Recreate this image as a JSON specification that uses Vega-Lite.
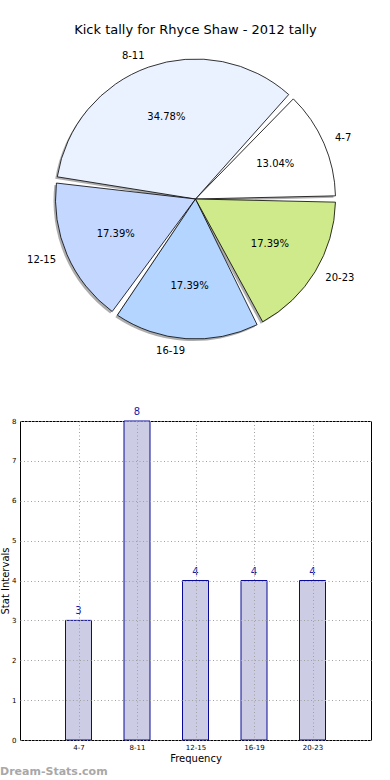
{
  "$schema": "https://vega.github.io/schema/vega-lite/v6.json",
  "padding": {"left": 0, "top": 23, "right": 20, "bottom": 0},
  "bounds": "flush",
  "spacing": 82,
  "config": {"font": "DejaVu Sans", "view": {"stroke": null}},
  "datasets": {
    "tally": [
      {"range": "4-7", "count": 3, "pct": "13.04%", "slot": 5, "side": "right"},
      {"range": "8-11", "count": 8, "pct": "34.78%", "slot": 4, "side": "left"},
      {"range": "12-15", "count": 4, "pct": "17.39%", "slot": 3, "side": "left"},
      {"range": "16-19", "count": 4, "pct": "17.39%", "slot": 2, "side": "left"},
      {"range": "20-23", "count": 4, "pct": "17.39%", "slot": 1, "side": "right"}
    ]
  },
  "title": {"text": "Dream-Stats.com", "orient": "bottom", "anchor": "start", "frame": "bounds", "color": "#a8a8a8", "fontSize": 11, "fontWeight": "bold", "offset": 2},
  "vconcat": [
    {
      "width": 351,
      "height": 280,
      "title": {"text": "Kick tally for Rhyce Shaw - 2012 tally", "fontSize": 13, "fontWeight": "normal", "offset": 14, "frame": "group", "color": "black"},
      "data": {"name": "tally"},
      "encoding": {
        "theta": {"field": "count", "type": "quantitative", "stack": true, "scale": {"range": [1.5708, 7.854]}},
        "order": {"field": "slot", "type": "quantitative"}
      },
      "layer": [
        {
          "mark": {"type": "arc", "outerRadius": 140, "padAngle": 0.045, "color": "#777777", "opacity": 0.6, "xOffset": -2, "yOffset": 2}
        },
        {
          "mark": {"type": "arc", "outerRadius": 140, "padAngle": 0.045, "stroke": "black", "strokeWidth": 0.8},
          "encoding": {
            "color": {"field": "range", "type": "nominal", "legend": null,
              "scale": {"domain": ["4-7", "8-11", "12-15", "16-19", "20-23"], "range": ["#ffffff", "#eaf2ff", "#c4d8ff", "#b3d5ff", "#cfea8a"]}}
          }
        },
        {
          "mark": {"type": "text", "radius": 87, "fontSize": 10, "color": "black"},
          "encoding": {"text": {"field": "pct"}}
        },
        {
          "mark": {"type": "text", "radius": 152, "fontSize": 10, "color": "black", "align": "right"},
          "encoding": {"text": {"condition": {"test": "datum.side === 'left'", "field": "range"}, "value": ""}}
        },
        {
          "mark": {"type": "text", "radius": 152, "fontSize": 10, "color": "black", "align": "left"},
          "encoding": {"text": {"condition": {"test": "datum.side === 'right'", "field": "range"}, "value": ""}}
        }
      ]
    },
    {
      "width": 351,
      "height": 319,
      "view": {"stroke": "black", "strokeWidth": 1},
      "data": {"name": "tally"},
      "encoding": {
        "x": {"field": "range", "type": "nominal", "sort": ["4-7", "8-11", "12-15", "16-19", "20-23"],
          "scale": {"type": "point", "padding": 1},
          "axis": {"title": "Frequency", "titleFontSize": 10, "titleFontWeight": "normal", "titleColor": "black", "titlePadding": 3, "labelFontSize": 7, "labelColor": "black", "labelAngle": 0, "labelPadding": 3, "ticks": false, "domain": false, "grid": true, "gridColor": "#a0a0a0", "gridDash": [1, 2.5], "zindex": 1}},
        "y": {"field": "count", "type": "quantitative",
          "scale": {"domain": [0, 8], "nice": false},
          "axis": {"title": "Stat Intervals", "titleFontSize": 10, "titleFontWeight": "normal", "titleColor": "black", "titlePadding": 1, "labelFontSize": 7, "labelColor": "black", "labelPadding": 4, "tickCount": 8, "ticks": false, "domain": false, "grid": true, "gridColor": "#a0a0a0", "gridDash": [1, 2.5], "zindex": 1}}
      },
      "layer": [
        {"mark": {"type": "bar", "size": 26, "fill": "#ccccE4", "stroke": "#0a0a96", "strokeWidth": 1}},
        {"mark": {"type": "text", "baseline": "bottom", "dy": -4, "fontSize": 10, "color": "#1a1aa8"},
          "encoding": {"text": {"field": "count", "type": "quantitative"}}}
      ]
    }
  ]
}
